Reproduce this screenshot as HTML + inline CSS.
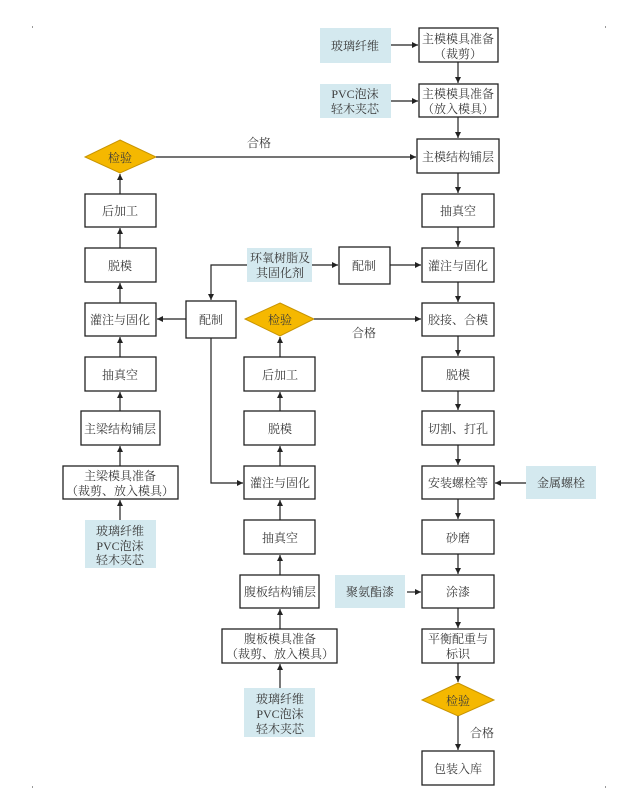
<!DOCTYPE html>
<html><head><meta charset="utf-8"><style>
html,body{margin:0;padding:0;background:#fff;}
svg{display:block;}
text{font-family:"Liberation Serif","Noto Serif CJK SC","Noto Sans CJK SC",serif;font-size:12px;fill:#3a3a3a;text-anchor:middle;}
.b{fill:#fff;stroke:#222;stroke-width:1.3;}
.c{fill:#d4e9ef;stroke:none;}
.d{fill:#f5b800;stroke:#c89400;stroke-width:1;}
.l{stroke:#222;stroke-width:1.2;fill:none;}
</style></head><body>
<svg width="620" height="804" viewBox="0 0 620 804">
<defs><marker id="a" markerWidth="8" markerHeight="8" refX="6" refY="3" orient="auto" markerUnits="userSpaceOnUse"><path d="M0,0 L6,3 L0,6 z" fill="#222"/></marker></defs>
<g fill="#999"><rect x="32" y="26" width="1" height="2"/><rect x="605" y="26" width="1" height="2"/><rect x="32" y="786" width="1" height="2"/><rect x="605" y="786" width="1" height="2"/></g>

<rect class="c" x="320" y="28" width="71" height="35"/><text x="355" y="50">玻璃纤维</text>
<rect class="b" x="419" y="28" width="79" height="34"/><text x="458" y="43">主模模具准备</text><text x="458" y="58">（裁剪）</text>
<rect class="c" x="320" y="84" width="71" height="34"/><text x="355" y="98">PVC泡沫</text><text x="355" y="113">轻木夹芯</text>
<rect class="b" x="419" y="84" width="79" height="33"/><text x="458" y="98">主模模具准备</text><text x="458" y="113">（放入模具）</text>
<rect class="b" x="417" y="139" width="82" height="34"/><text x="458" y="161">主模结构铺层</text>
<rect class="b" x="422" y="194" width="72" height="33"/><text x="458" y="215">抽真空</text>
<rect class="b" x="422" y="248" width="72" height="34"/><text x="458" y="270">灌注与固化</text>
<rect class="b" x="422" y="303" width="72" height="33"/><text x="458" y="324">胶接、合模</text>
<rect class="b" x="422" y="357" width="72" height="34"/><text x="458" y="379">脱模</text>
<rect class="b" x="422" y="411" width="72" height="34"/><text x="458" y="433">切割、打孔</text>
<rect class="b" x="422" y="466" width="72" height="33"/><text x="458" y="487">安装螺栓等</text>
<rect class="c" x="526" y="466" width="70" height="33"/><text x="561" y="487">金属螺栓</text>
<rect class="b" x="422" y="520" width="72" height="34"/><text x="458" y="542">砂磨</text>
<rect class="b" x="422" y="575" width="72" height="33"/><text x="458" y="596">涂漆</text>
<rect class="c" x="335" y="575" width="70" height="33"/><text x="370" y="596">聚氨酯漆</text>
<rect class="b" x="422" y="629" width="72" height="34"/><text x="458" y="643">平衡配重与</text><text x="458" y="658">标识</text>
<polygon class="d" points="458,683 494,700 458,716 422,700"/><text x="458" y="705">检验</text>
<text x="482" y="737">合格</text>
<rect class="b" x="422" y="751" width="72" height="34"/><text x="458" y="773">包装入库</text>

<line class="l" x1="391" y1="45" x2="418" y2="45" marker-end="url(#a)"/>
<line class="l" x1="391" y1="101" x2="418" y2="101" marker-end="url(#a)"/>
<line class="l" x1="458" y1="62" x2="458" y2="83" marker-end="url(#a)"/>
<line class="l" x1="458" y1="117" x2="458" y2="138" marker-end="url(#a)"/>
<line class="l" x1="458" y1="173" x2="458" y2="193" marker-end="url(#a)"/>
<line class="l" x1="458" y1="227" x2="458" y2="247" marker-end="url(#a)"/>
<line class="l" x1="458" y1="282" x2="458" y2="302" marker-end="url(#a)"/>
<line class="l" x1="458" y1="336" x2="458" y2="356" marker-end="url(#a)"/>
<line class="l" x1="458" y1="391" x2="458" y2="410" marker-end="url(#a)"/>
<line class="l" x1="458" y1="445" x2="458" y2="465" marker-end="url(#a)"/>
<line class="l" x1="458" y1="499" x2="458" y2="519" marker-end="url(#a)"/>
<line class="l" x1="458" y1="554" x2="458" y2="574" marker-end="url(#a)"/>
<line class="l" x1="458" y1="608" x2="458" y2="628" marker-end="url(#a)"/>
<line class="l" x1="458" y1="663" x2="458" y2="682" marker-end="url(#a)"/>
<line class="l" x1="458" y1="716" x2="458" y2="750" marker-end="url(#a)"/>
<line class="l" x1="526" y1="483" x2="495" y2="483" marker-end="url(#a)"/>
<line class="l" x1="407" y1="592" x2="421" y2="592" marker-end="url(#a)"/>

<rect class="c" x="247" y="248" width="65" height="34"/><text x="280" y="262">环氧树脂及</text><text x="280" y="277">其固化剂</text>
<rect class="b" x="339" y="247" width="51" height="37"/><text x="364" y="270">配制</text>
<line class="l" x1="312" y1="265" x2="338" y2="265" marker-end="url(#a)"/>
<line class="l" x1="390" y1="265" x2="421" y2="265" marker-end="url(#a)"/>
<polyline class="l" points="247,265 211,265 211,300" marker-end="url(#a)"/>

<polygon class="d" points="120,140 156,157 120,173 85,157"/><text x="120" y="162">检验</text>
<line class="l" x1="156" y1="157" x2="416" y2="157" marker-end="url(#a)"/>
<text x="259" y="147">合格</text>
<rect class="b" x="85" y="194" width="71" height="33"/><text x="120" y="215">后加工</text>
<rect class="b" x="85" y="248" width="71" height="34"/><text x="120" y="270">脱模</text>
<rect class="b" x="85" y="303" width="71" height="33"/><text x="120" y="324">灌注与固化</text>
<rect class="b" x="85" y="357" width="71" height="34"/><text x="120" y="379">抽真空</text>
<rect class="b" x="81" y="411" width="79" height="34"/><text x="120" y="433">主梁结构铺层</text>
<rect class="b" x="63" y="466" width="115" height="33"/><text x="120" y="480">主梁模具准备</text><text x="120" y="495">（裁剪、放入模具）</text>
<rect class="c" x="85" y="520" width="71" height="48"/><text x="120" y="535">玻璃纤维</text><text x="120" y="550">PVC泡沫</text><text x="120" y="564">轻木夹芯</text>
<line class="l" x1="120" y1="194" x2="120" y2="174" marker-end="url(#a)"/>
<line class="l" x1="120" y1="248" x2="120" y2="228" marker-end="url(#a)"/>
<line class="l" x1="120" y1="303" x2="120" y2="283" marker-end="url(#a)"/>
<line class="l" x1="120" y1="357" x2="120" y2="337" marker-end="url(#a)"/>
<line class="l" x1="120" y1="411" x2="120" y2="392" marker-end="url(#a)"/>
<line class="l" x1="120" y1="466" x2="120" y2="446" marker-end="url(#a)"/>
<line class="l" x1="120" y1="520" x2="120" y2="500" marker-end="url(#a)"/>

<rect class="b" x="186" y="301" width="50" height="37"/><text x="211" y="324">配制</text>
<line class="l" x1="186" y1="319" x2="157" y2="319" marker-end="url(#a)"/>
<polyline class="l" points="211,338 211,483 243,483" marker-end="url(#a)"/>
<polygon class="d" points="280,303 314,319 280,336 245,319"/><text x="280" y="324">检验</text>
<line class="l" x1="314" y1="319" x2="421" y2="319" marker-end="url(#a)"/>
<text x="364" y="337">合格</text>
<rect class="b" x="244" y="357" width="71" height="34"/><text x="280" y="379">后加工</text>
<rect class="b" x="244" y="411" width="71" height="34"/><text x="280" y="433">脱模</text>
<rect class="b" x="244" y="466" width="71" height="33"/><text x="280" y="487">灌注与固化</text>
<rect class="b" x="244" y="520" width="71" height="34"/><text x="280" y="542">抽真空</text>
<rect class="b" x="240" y="575" width="79" height="33"/><text x="280" y="596">腹板结构铺层</text>
<rect class="b" x="222" y="629" width="115" height="34"/><text x="280" y="643">腹板模具准备</text><text x="280" y="658">（裁剪、放入模具）</text>
<rect class="c" x="244" y="688" width="71" height="49"/><text x="280" y="703">玻璃纤维</text><text x="280" y="718">PVC泡沫</text><text x="280" y="733">轻木夹芯</text>
<line class="l" x1="280" y1="357" x2="280" y2="337" marker-end="url(#a)"/>
<line class="l" x1="280" y1="411" x2="280" y2="392" marker-end="url(#a)"/>
<line class="l" x1="280" y1="466" x2="280" y2="446" marker-end="url(#a)"/>
<line class="l" x1="280" y1="520" x2="280" y2="500" marker-end="url(#a)"/>
<line class="l" x1="280" y1="575" x2="280" y2="555" marker-end="url(#a)"/>
<line class="l" x1="280" y1="629" x2="280" y2="609" marker-end="url(#a)"/>
<line class="l" x1="280" y1="688" x2="280" y2="664" marker-end="url(#a)"/>
</svg>
</body></html>
